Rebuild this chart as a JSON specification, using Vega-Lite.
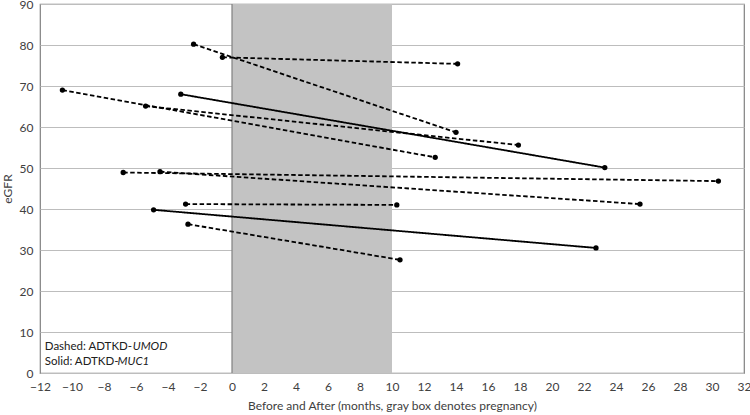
{
  "$schema": "https://vega.github.io/schema/vega-lite/v6.json",
  "width": 704,
  "height": 369,
  "autosize": {"type": "none"},
  "padding": {"left": 40, "top": 4, "right": 6, "bottom": 42},
  "background": "white",
  "config": {
    "font": "Lato",
    "view": {"stroke": "#808080", "strokeWidth": 1.2},
    "axis": {"labelFont": "Lato", "titleFont": "Lato", "labelColor": "#404040", "titleColor": "#404040", "labelFontSize": 12, "titleFontSize": 12, "titleFontWeight": "normal", "ticks": false, "domain": false, "labelOverlap": false, "labelFlush": false}
  },
  "datasets": {
    "pts": [
      {"patient": "P1", "gene": "UMOD", "month": -2.4, "egfr": 80.2},
      {"patient": "P1", "gene": "UMOD", "month": 14.0, "egfr": 58.7},
      {"patient": "P2", "gene": "UMOD", "month": -0.6, "egfr": 77.0},
      {"patient": "P2", "gene": "UMOD", "month": 14.1, "egfr": 75.4},
      {"patient": "P3", "gene": "MUC1", "month": -3.2, "egfr": 68.0},
      {"patient": "P3", "gene": "MUC1", "month": 23.3, "egfr": 50.1},
      {"patient": "P4", "gene": "UMOD", "month": -10.6, "egfr": 69.0},
      {"patient": "P4", "gene": "UMOD", "month": 12.7, "egfr": 52.6},
      {"patient": "P5", "gene": "UMOD", "month": -5.4, "egfr": 65.1},
      {"patient": "P5", "gene": "UMOD", "month": 17.9, "egfr": 55.6},
      {"patient": "P6", "gene": "UMOD", "month": -6.8, "egfr": 48.9},
      {"patient": "P6", "gene": "UMOD", "month": 30.4, "egfr": 46.8},
      {"patient": "P7", "gene": "UMOD", "month": -4.5, "egfr": 49.1},
      {"patient": "P7", "gene": "UMOD", "month": 25.5, "egfr": 41.2},
      {"patient": "P8", "gene": "UMOD", "month": -2.9, "egfr": 41.2},
      {"patient": "P8", "gene": "UMOD", "month": 10.3, "egfr": 41.0},
      {"patient": "P9", "gene": "MUC1", "month": -4.9, "egfr": 39.8},
      {"patient": "P9", "gene": "MUC1", "month": 22.75, "egfr": 30.5},
      {"patient": "P10", "gene": "UMOD", "month": -2.75, "egfr": 36.3},
      {"patient": "P10", "gene": "UMOD", "month": 10.5, "egfr": 27.6}
    ]
  },
  "encoding": {
    "x": {"field": "month", "type": "quantitative", "scale": {"domain": [-12, 32], "nice": false, "zero": false}, "axis": {"values": [-12,-10,-8,-6,-4,-2,0,2,4,6,8,10,12,14,16,18,20,22,24,26,28,30,32], "labelOverlap": false, "labelFlush": false, "grid": false, "title": "Before and After (months, gray box denotes pregnancy)", "labelPadding": 8, "titlePadding": 8}},
    "y": {"field": "egfr", "type": "quantitative", "scale": {"domain": [0, 90], "nice": false}, "axis": {"values": [0,10,20,30,40,50,60,70,80,90], "labelOverlap": false, "grid": true, "gridColor": "#bdbdbd", "gridWidth": 1.2, "title": "eGFR", "labelPadding": 7, "titlePadding": 5}}
  },
  "layer": [
    {
      "data": {"values": [{"month": 0, "month_end": 10, "egfr": 0, "egfr_top": 90}]},
      "mark": {"type": "rect", "color": "#c3c3c3"},
      "encoding": {
        "x2": {"field": "month_end"},
        "y2": {"field": "egfr_top"}
      }
    },
    {
      "data": {"values": [{"month": 0}]},
      "mark": {"type": "rule", "color": "#808080", "strokeWidth": 1.2},
      "encoding": {"y": null}
    },
    {
      "data": {"name": "pts"},
      "mark": {"type": "line", "color": "black", "strokeWidth": 1.8},
      "encoding": {
        "detail": {"field": "patient"},
        "strokeDash": {"field": "gene", "type": "nominal", "scale": {"domain": ["UMOD", "MUC1"], "range": [[4.5, 2.5], [1, 0]]}, "legend": null}
      }
    },
    {
      "data": {"name": "pts"},
      "mark": {"type": "circle", "color": "black", "opacity": 1, "size": 28}
    },
    {
      "data": {"values": [{"month": -11.7, "egfr": 6.3, "label": "Dashed: ADTKD-"}, {"month": -11.7, "egfr": 2.7, "label": "Solid: ADTKD-"}]},
      "mark": {"type": "text", "align": "left", "baseline": "middle", "font": "Lato", "fontSize": 11.5, "color": "#202020"},
      "encoding": {"text": {"field": "label"}}
    },
    {
      "data": {"values": [{"month": -6.2, "egfr": 6.3, "label": "UMOD"}, {"month": -7.15, "egfr": 2.7, "label": "MUC1"}]},
      "mark": {"type": "text", "align": "left", "baseline": "middle", "font": "Lato", "fontSize": 11.5, "fontStyle": "italic", "color": "#202020"},
      "encoding": {"text": {"field": "label"}}
    }
  ]
}
